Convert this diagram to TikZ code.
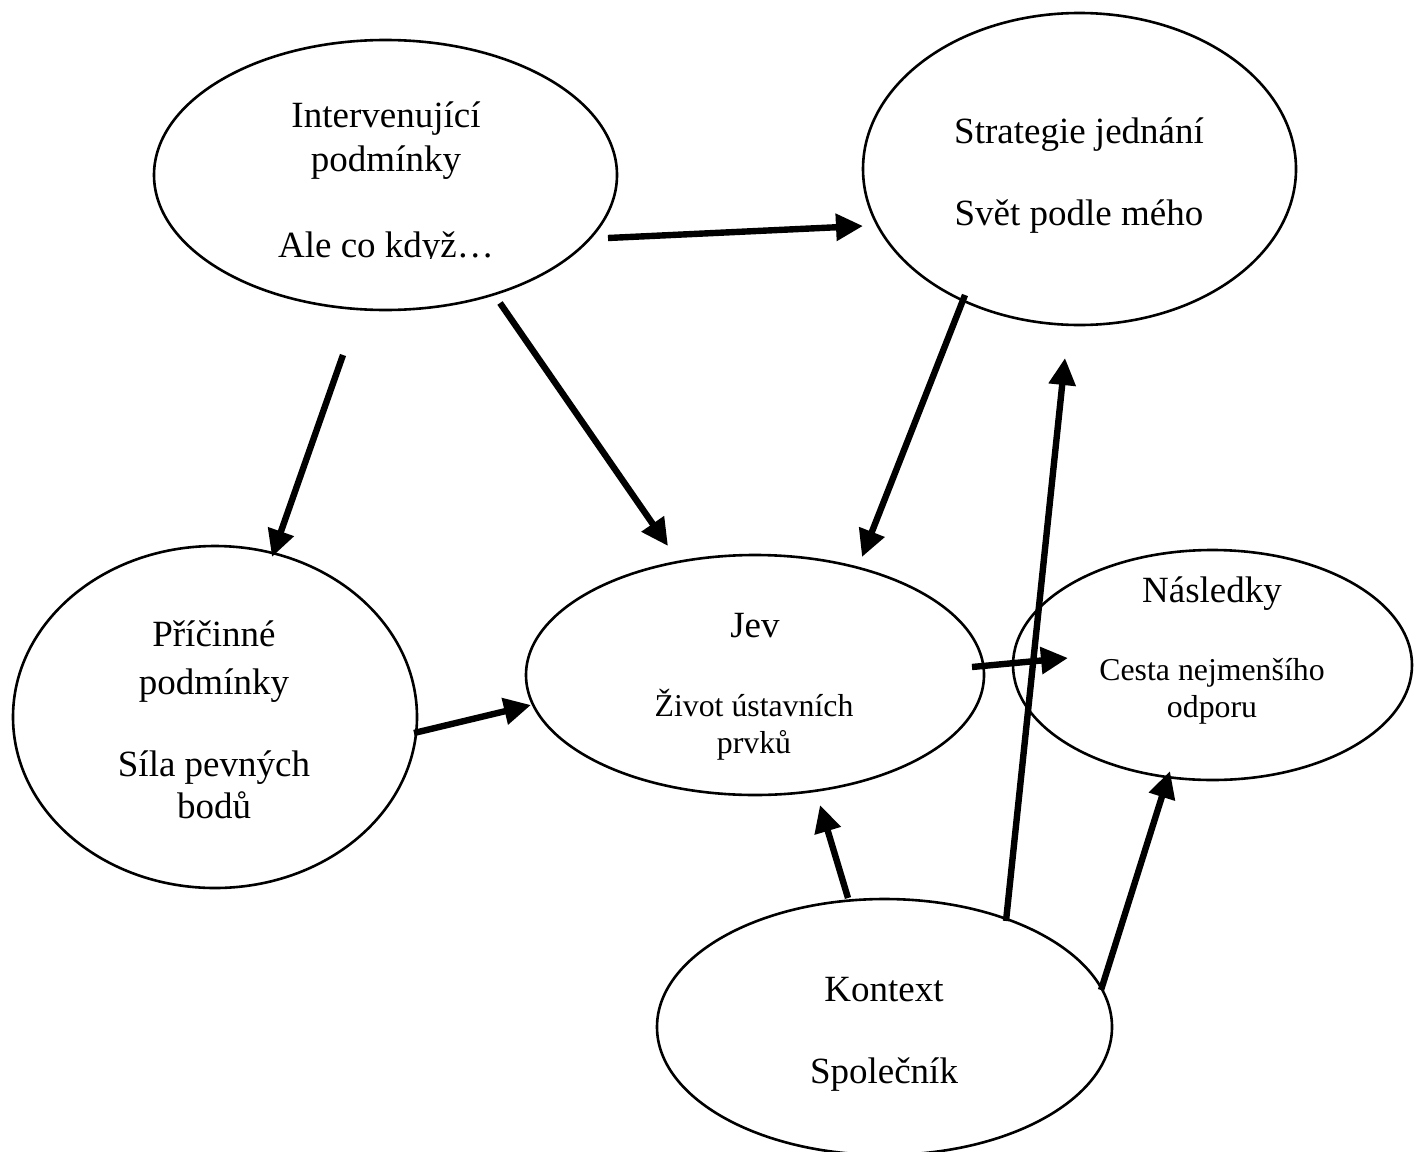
\documentclass[tikz,border=0pt]{standalone}
\usepackage{fontspec}
\setmainfont{Liberation Serif}
\usetikzlibrary{shapes.geometric,arrows.meta}
\begin{document}
\begin{tikzpicture}[x=0.5pt,y=-0.5pt,
  oval/.style={ellipse, draw, line width=1.3pt, inner sep=0pt, outer sep=0pt},
  big/.style={anchor=base, inner sep=0pt, font=\fontsize{18.5}{21}\selectfont},
  small/.style={anchor=base, inner sep=0pt, font=\fontsize{15.9}{18}\selectfont},
  conn/.style={line width=3.2pt, -{Triangle[length=13.5pt,width=13pt]}}]
\useasboundingbox (0,0) rectangle (1418,1151);
\clip (0,0) rectangle (1418,1151);
% ellipses
\node[oval, minimum width=231.5pt, minimum height=135pt] (interv) at (385.5,175) {};
\node[oval, minimum width=216.5pt, minimum height=156pt] (strat) at (1079.5,169) {};
\node[oval, minimum width=202pt, minimum height=171pt] (pric) at (215,717) {};
\node[oval, minimum width=229pt, minimum height=120pt] (jev) at (755,675) {};
\node[oval, minimum width=199.5pt, minimum height=115pt] (nasl) at (1212.5,665) {};
\node[oval, minimum width=227.5pt, minimum height=128pt] (kont) at (884.5,1027) {};
% texts
\node[big] (t1) at (386,127) {Intervenující};
\node[big] (t2) at (386,171) {podmínky};
\begin{scope}
\clip (150,200) rectangle (620,258.5);
\node[big] (t3) at (386,257) {Ale co když…};
\end{scope}
\node[big] (t4) at (1079,143) {Strategie jednání};
\node[big] (t5) at (1079,225) {Svět podle mého};
\node[big] (t6) at (214,646) {Příčinné};
\node[big] (t7) at (214,694) {podmínky};
\node[big] (t8) at (214,776) {Síla pevných};
\node[big] (t9) at (214,818) {bodů};
\node[big] (t10) at (755,637) {Jev};
\node[small] (t11) at (754,716) {Život ústavních};
\node[small] (t12) at (754,753) {prvků};
\node[big] (t13) at (1212,602) {Následky};
\node[small] (t14) at (1212,680) {Cesta nejmenšího};
\node[small] (t15) at (1212,717) {odporu};
\node[big] (t16) at (884,1001) {Kontext};
\node[big] (t17) at (884,1083) {Společník};
% connector endpoints
\coordinate (a1s) at (608,238); \coordinate (a1e) at (863,226);
\coordinate (a2s) at (343,355); \coordinate (a2e) at (272,557);
\coordinate (a3s) at (500,303); \coordinate (a3e) at (668,546);
\coordinate (a4s) at (965,295); \coordinate (a4e) at (862,557);
\coordinate (a5s) at (414,733); \coordinate (a5e) at (531,705);
\coordinate (a6s) at (972,667); \coordinate (a6e) at (1068,658);
\coordinate (a7s) at (848,898); \coordinate (a7e) at (820,805);
\coordinate (a8s) at (1006,921); \coordinate (a8e) at (1065,358);
\coordinate (a9s) at (1101,990); \coordinate (a9e) at (1170,771);
\draw[conn] (a1s) -- (a1e);
\draw[conn] (a2s) -- (a2e);
\draw[conn] (a3s) -- (a3e);
\draw[conn] (a4s) -- (a4e);
\draw[conn] (a5s) -- (a5e);
\draw[conn] (a6s) -- (a6e);
\draw[conn] (a7s) -- (a7e);
\draw[conn] (a8s) -- (a8e);
\draw[conn] (a9s) -- (a9e);
\end{tikzpicture}
\end{document}
